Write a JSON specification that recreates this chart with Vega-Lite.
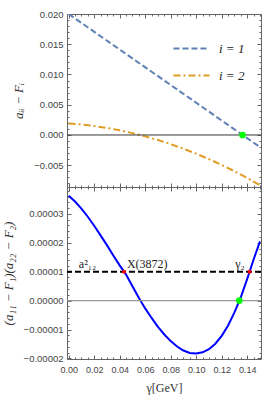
{
  "$schema": "https://vega.github.io/schema/vega-lite/v6.json",
  "padding": {"left": 2, "top": 9, "right": 5, "bottom": 2},
  "background": "white",
  "spacing": 0,
  "bounds": "flush",
  "config": {
    "view": {"stroke": null},
    "axis": {
      "domainColor": "#666666",
      "tickColor": "#666666",
      "labelColor": "#444444",
      "labelFont": "Liberation Sans",
      "labelFontSize": 9.5,
      "labelOverlap": false,
      "labelFlush": false,
      "labelBound": false,
      "grid": false,
      "titleFont": "Liberation Serif",
      "titleFontWeight": "normal",
      "titleColor": "#333333"
    }
  },
  "datasets": {
    "topCurves": [
      {"g": 0.0, "v": 0.02, "s": "i = 1"},
      {"g": 0.05, "v": 0.01266, "s": "i = 1"},
      {"g": 0.1, "v": 0.00533, "s": "i = 1"},
      {"g": 0.15, "v": -0.00201, "s": "i = 1"},
      {"g": 0.0, "v": 0.0019, "s": "i = 2"},
      {"g": 0.01, "v": 0.001726, "s": "i = 2"},
      {"g": 0.02, "v": 0.001479, "s": "i = 2"},
      {"g": 0.03, "v": 0.001162, "s": "i = 2"},
      {"g": 0.04, "v": 0.000771, "s": "i = 2"},
      {"g": 0.05, "v": 0.000307, "s": "i = 2"},
      {"g": 0.06, "v": -0.000228, "s": "i = 2"},
      {"g": 0.07, "v": -0.000836, "s": "i = 2"},
      {"g": 0.08, "v": -0.001516, "s": "i = 2"},
      {"g": 0.09, "v": -0.002268, "s": "i = 2"},
      {"g": 0.1, "v": -0.003093, "s": "i = 2"},
      {"g": 0.11, "v": -0.00399, "s": "i = 2"},
      {"g": 0.12, "v": -0.00496, "s": "i = 2"},
      {"g": 0.13, "v": -0.006, "s": "i = 2"},
      {"g": 0.14, "v": -0.007114, "s": "i = 2"},
      {"g": 0.15, "v": -0.0083, "s": "i = 2"}
    ],
    "topZero": [{"v": 0}],
    "topGreen": [{"g": 0.1363, "v": 0}],
    "product": [
      {"g": 0.0, "v": 0.0000363},
      {"g": 0.005, "v": 0.00003426},
      {"g": 0.01, "v": 0.00003181},
      {"g": 0.015, "v": 0.00002901},
      {"g": 0.02, "v": 0.00002591},
      {"g": 0.025, "v": 0.00002258},
      {"g": 0.03, "v": 0.0000192},
      {"g": 0.035, "v": 0.0000156},
      {"g": 0.04, "v": 0.0000122},
      {"g": 0.045, "v": 0.000009},
      {"g": 0.05, "v": 0.000005},
      {"g": 0.055, "v": 0.000001},
      {"g": 0.06, "v": -0.0000027},
      {"g": 0.065, "v": -0.000006},
      {"g": 0.07, "v": -0.00000905},
      {"g": 0.075, "v": -0.00001172},
      {"g": 0.08, "v": -0.00001401},
      {"g": 0.085, "v": -0.00001588},
      {"g": 0.09, "v": -0.00001726},
      {"g": 0.095, "v": -0.00001809},
      {"g": 0.1, "v": -0.0000183},
      {"g": 0.105, "v": -0.0000179},
      {"g": 0.11, "v": -0.00001679},
      {"g": 0.115, "v": -0.0000149},
      {"g": 0.12, "v": -0.00001219},
      {"g": 0.125, "v": -0.00000861},
      {"g": 0.13, "v": -0.00000409},
      {"g": 0.135, "v": 0.0000012},
      {"g": 0.14, "v": 0.0000075},
      {"g": 0.145, "v": 0.0000142},
      {"g": 0.15, "v": 0.0000205}
    ],
    "bottomZero": [{"v": 0}],
    "threshold": [{"v": 0.00001}],
    "redPts": [{"g": 0.0434, "v": 0.00001}, {"g": 0.1418, "v": 0.00001}],
    "bottomGreen": [{"g": 0.1338, "v": 0}],
    "notes": [
      {"g": 0.008, "v": 0.00001, "t": "a²₁₂", "italic": "italic"},
      {"g": 0.0457, "v": 0.00001, "t": "X(3872)", "italic": "normal"},
      {"g": 0.1306, "v": 0.00001, "t": "γ₂", "italic": "normal"}
    ]
  },
  "resolve": {"legend": {"color": "independent", "strokeDash": "independent"}},
  "vconcat": [
    {
      "width": 194,
      "height": 173,
      "resolve": {"axis": {"x": "independent", "y": "independent"}},
      "layer": [
        {
          "data": {"name": "topCurves"},
          "mark": {"type": "line", "strokeWidth": 2, "clip": true},
          "encoding": {
            "x": {
              "field": "g", "type": "quantitative",
              "scale": {"domain": [-0.0013, 0.1508], "nice": false, "zero": false},
              "axis": {
                "orient": "bottom", "title": null, "labels": false,
                "values": [0,0.005,0.01,0.015,0.02,0.025,0.03,0.035,0.04,0.045,0.05,0.055,0.06,0.065,0.07,0.075,0.08,0.085,0.09,0.095,0.1,0.105,0.11,0.115,0.12,0.125,0.13,0.135,0.14,0.145,0.15],
                "tickSize": {"condition": {"test": "abs(datum.value*50 - round(datum.value*50)) < 1e-6", "value": -4}, "value": -2}
              }
            },
            "y": {
              "field": "v", "type": "quantitative",
              "scale": {"domain": [-0.0086, 0.02], "nice": false, "zero": false},
              "axis": {
                "orient": "left",
                "title": "aᵢᵢ − Fᵢ",
                "titleFontStyle": "italic",
                "titleFontSize": 13,
                "titleX": -49,
                "titleBaseline": "middle",
                "values": [-0.008,-0.007,-0.006,-0.005,-0.004,-0.003,-0.002,-0.001,0,0.001,0.002,0.003,0.004,0.005,0.006,0.007,0.008,0.009,0.01,0.011,0.012,0.013,0.014,0.015,0.016,0.017,0.018,0.019,0.02],
                "labelExpr": "abs(datum.value*200 - round(datum.value*200)) < 1e-6 ? format(datum.value, '.3f') : ''",
                "labelPadding": 8,
                "tickSize": {"condition": {"test": "abs(datum.value*200 - round(datum.value*200)) < 1e-6", "value": -4}, "value": -2}
              }
            },
            "color": {
              "field": "s", "type": "nominal",
              "scale": {"domain": ["i = 1", "i = 2"], "range": ["#5E81B5", "#E19C24"]},
              "legend": {
                "orient": "none", "legendX": 105, "legendY": 15, "title": null,
                "symbolType": "stroke", "symbolSize": 1300, "symbolStrokeWidth": 2,
                "labelFont": "Liberation Serif", "labelFontStyle": "italic", "labelFontSize": 13,
                "labelColor": "#222222", "labelOffset": 8, "rowPadding": -11, "padding": 0
              }
            },
            "strokeDash": {
              "field": "s", "type": "nominal",
              "scale": {"domain": ["i = 1", "i = 2"], "range": [[6, 3], [7, 3, 2, 3]]},
              "legend": {
                "orient": "none", "legendX": 105, "legendY": 15, "title": null,
                "symbolType": "stroke", "symbolSize": 1300, "symbolStrokeWidth": 2,
                "labelFont": "Liberation Serif", "labelFontStyle": "italic", "labelFontSize": 13,
                "labelColor": "#222222", "labelOffset": 8, "rowPadding": -11, "padding": 0
              }
            }
          }
        },
        {
          "data": {"name": "topZero"},
          "mark": {"type": "rule", "color": "#333333", "strokeWidth": 1},
          "encoding": {"y": {"field": "v", "type": "quantitative", "axis": null}}
        },
        {
          "data": {"name": "topGreen"},
          "mark": {"type": "point", "filled": true, "color": "#00FF00", "size": 45, "opacity": 1},
          "encoding": {
            "x": {
              "field": "g", "type": "quantitative",
              "axis": {
                "orient": "top", "title": null, "labels": false,
                "values": [0,0.005,0.01,0.015,0.02,0.025,0.03,0.035,0.04,0.045,0.05,0.055,0.06,0.065,0.07,0.075,0.08,0.085,0.09,0.095,0.1,0.105,0.11,0.115,0.12,0.125,0.13,0.135,0.14,0.145,0.15],
                "tickSize": {"condition": {"test": "abs(datum.value*50 - round(datum.value*50)) < 1e-6", "value": -4}, "value": -2}
              }
            },
            "y": {
              "field": "v", "type": "quantitative",
              "axis": {
                "orient": "right", "title": null, "labels": false,
                "values": [-0.008,-0.007,-0.006,-0.005,-0.004,-0.003,-0.002,-0.001,0,0.001,0.002,0.003,0.004,0.005,0.006,0.007,0.008,0.009,0.01,0.011,0.012,0.013,0.014,0.015,0.016,0.017,0.018,0.019,0.02],
                "tickSize": {"condition": {"test": "abs(datum.value*200 - round(datum.value*200)) < 1e-6", "value": -4}, "value": -2}
              }
            }
          }
        }
      ]
    },
    {
      "width": 194,
      "height": 172,
      "resolve": {"axis": {"x": "independent", "y": "independent"}},
      "layer": [
        {
          "data": {"name": "product"},
          "mark": {"type": "line", "color": "#0000FF", "strokeWidth": 2, "clip": true},
          "encoding": {
            "x": {
              "field": "g", "type": "quantitative",
              "scale": {"domain": [-0.0013, 0.1508], "nice": false, "zero": false},
              "axis": {
                "orient": "bottom",
                "title": "γ[GeV]",
                "titleFontSize": 12,
                "titlePadding": 6,
                "values": [0,0.005,0.01,0.015,0.02,0.025,0.03,0.035,0.04,0.045,0.05,0.055,0.06,0.065,0.07,0.075,0.08,0.085,0.09,0.095,0.1,0.105,0.11,0.115,0.12,0.125,0.13,0.135,0.14,0.145,0.15],
                "labelExpr": "abs(datum.value*50 - round(datum.value*50)) < 1e-6 && datum.value < 0.145 ? format(datum.value, '.2f') : ''",
                "labelFontSize": 9,
                "labelPadding": 10,
                "tickSize": {"condition": {"test": "abs(datum.value*50 - round(datum.value*50)) < 1e-6", "value": -4}, "value": -2}
              }
            },
            "y": {
              "field": "v", "type": "quantitative",
              "scale": {"domain": [-0.0000202, 0.0000393], "nice": false, "zero": false},
              "axis": {
                "orient": "left",
                "title": "(a₁₁ − F₁)(a₂₂ − F₂)",
                "titleFontStyle": "italic",
                "titleFontSize": 13,
                "titleX": -59,
                "titleBaseline": "middle",
                "values": [-0.00002,-0.000018,-0.000016,-0.000014,-0.000012,-0.00001,-0.000008,-0.000006,-0.000004,-0.000002,0,0.000002,0.000004,0.000006,0.000008,0.00001,0.000012,0.000014,0.000016,0.000018,0.00002,0.000022,0.000024,0.000026,0.000028,0.00003,0.000032,0.000034,0.000036,0.000038],
                "labelExpr": "abs(datum.value*1e5 - round(datum.value*1e5)) < 1e-6 ? format(datum.value, '.5f') : ''",
                "labelPadding": 8,
                "tickSize": {"condition": {"test": "abs(datum.value*1e5 - round(datum.value*1e5)) < 1e-6", "value": -4}, "value": -2}
              }
            }
          }
        },
        {
          "data": {"name": "bottomZero"},
          "mark": {"type": "rule", "color": "#999999", "strokeWidth": 1.2},
          "encoding": {"y": {"field": "v", "type": "quantitative", "axis": null}}
        },
        {
          "data": {"name": "threshold"},
          "mark": {"type": "rule", "color": "#000000", "strokeWidth": 2, "strokeDash": [6, 3]},
          "encoding": {"y": {"field": "v", "type": "quantitative", "axis": null}}
        },
        {
          "data": {"name": "notes"},
          "mark": {"type": "text", "align": "left", "baseline": "bottom", "dy": -1, "font": "Liberation Serif", "fontSize": 12, "color": "#222222"},
          "encoding": {
            "x": {"field": "g", "type": "quantitative", "axis": null},
            "y": {"field": "v", "type": "quantitative", "axis": null},
            "text": {"field": "t"},
            "fontStyle": {"field": "italic", "type": "nominal", "scale": null}
          }
        },
        {
          "data": {"name": "redPts"},
          "mark": {"type": "point", "filled": true, "color": "#FF0000", "size": 16, "opacity": 1},
          "encoding": {
            "x": {"field": "g", "type": "quantitative", "axis": null},
            "y": {"field": "v", "type": "quantitative", "axis": null}
          }
        },
        {
          "data": {"name": "bottomGreen"},
          "mark": {"type": "point", "filled": true, "color": "#00FF00", "size": 45, "opacity": 1},
          "encoding": {
            "x": {
              "field": "g", "type": "quantitative",
              "axis": {
                "orient": "top", "title": null, "labels": false,
                "values": [0,0.005,0.01,0.015,0.02,0.025,0.03,0.035,0.04,0.045,0.05,0.055,0.06,0.065,0.07,0.075,0.08,0.085,0.09,0.095,0.1,0.105,0.11,0.115,0.12,0.125,0.13,0.135,0.14,0.145,0.15],
                "tickSize": {"condition": {"test": "abs(datum.value*50 - round(datum.value*50)) < 1e-6", "value": -4}, "value": -2}
              }
            },
            "y": {
              "field": "v", "type": "quantitative",
              "axis": {
                "orient": "right", "title": null, "labels": false,
                "values": [-0.00002,-0.000018,-0.000016,-0.000014,-0.000012,-0.00001,-0.000008,-0.000006,-0.000004,-0.000002,0,0.000002,0.000004,0.000006,0.000008,0.00001,0.000012,0.000014,0.000016,0.000018,0.00002,0.000022,0.000024,0.000026,0.000028,0.00003,0.000032,0.000034,0.000036,0.000038],
                "tickSize": {"condition": {"test": "abs(datum.value*1e5 - round(datum.value*1e5)) < 1e-6", "value": -4}, "value": -2}
              }
            }
          }
        }
      ]
    }
  ]
}
